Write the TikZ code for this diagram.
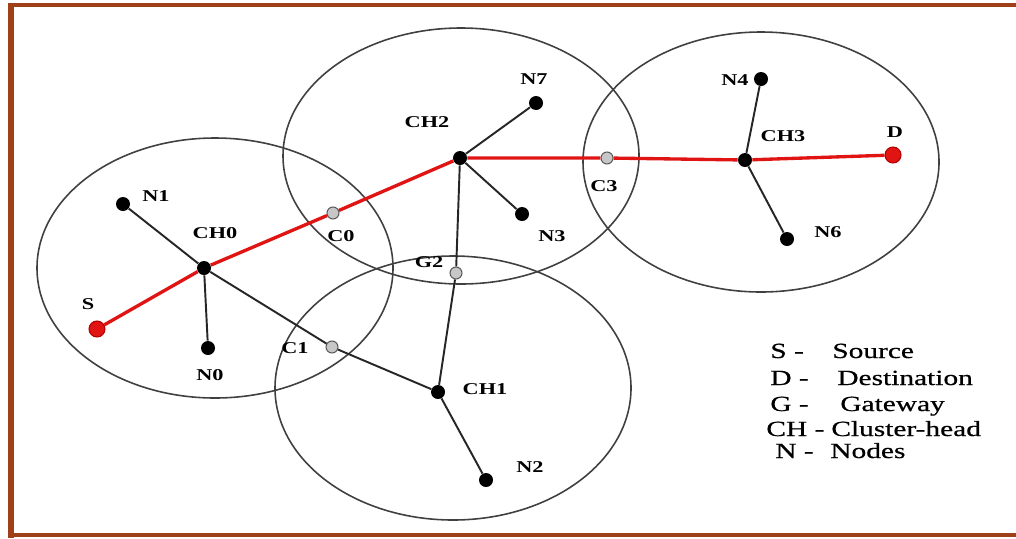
\documentclass[tikz,border=0pt]{standalone}
\usepackage{fontspec}
\setmainfont{Liberation Serif}
\newfontfamily\tagfont[FakeStretch=1.35]{Liberation Serif}
\newfontfamily\keyfont[FakeStretch=1.36,FakeBold=0.6]{Liberation Serif}
\definecolor{framebrown}{RGB}{160,64,24}
\definecolor{routered}{RGB}{225,20,20}

\begin{document}
\begin{tikzpicture}[x=0.02cm,y=-0.02cm,
  sensor/.style={circle,fill=black,inner sep=0pt,minimum size=0.28cm},
  gateway/.style={circle,draw=black!65,fill=black!22,line width=0.6pt,inner sep=0pt,minimum size=0.24cm},
  terminal/.style={circle,draw=red!70!black,fill=routered,line width=0.6pt,inner sep=0pt,minimum size=0.32cm},
  tag/.style={font=\tagfont\bfseries\fontsize{9.4}{11}\selectfont,inner sep=0pt},
  key/.style={font=\keyfont\fontsize{12.3}{14}\selectfont,anchor=base west,inner sep=0pt},
  zone/.style={draw=black!75,line width=0.9pt},
  link/.style={draw=black!85,line width=1.1pt},
  hop/.style={draw=routered,line width=1.9pt}]

  \useasboundingbox (0,0) rectangle (1016,538);
  \fill[white] (0,0) rectangle (1016,538);

  % frame
  \draw[framebrown,line width=3.4pt] (11,3) -- (11,538);
  \draw[framebrown,line width=2.3pt] (8,5) -- (1016,5);
  \draw[framebrown,line width=2.3pt] (8,535) -- (1016,535);

  % cluster ranges
  \draw[zone] (215,268) ellipse [x radius=178, y radius=130];
  \draw[zone] (461,156) ellipse [x radius=178, y radius=128];
  \draw[zone] (761,162) ellipse [x radius=178, y radius=130];
  \draw[zone] (453,388) ellipse [x radius=178, y radius=132];

  % nodes
  \node[terminal] (S) at (97,329) {};
  \node[terminal] (D) at (893,155) {};
  \node[sensor] (CH0) at (204,268) {};
  \node[sensor] (CH1) at (438,392) {};
  \node[sensor] (CH2) at (460,158) {};
  \node[sensor] (CH3) at (745,160) {};
  \node[sensor] (N0) at (208,348) {};
  \node[sensor] (N1) at (123,204) {};
  \node[sensor] (N2) at (486,480) {};
  \node[sensor] (N3) at (522,214) {};
  \node[sensor] (N4) at (761,79) {};
  \node[sensor] (N6) at (787,239) {};
  \node[sensor] (N7) at (536,103) {};
  \node[gateway] (C0) at (333,213) {};
  \node[gateway] (C1) at (332,347) {};
  \node[gateway] (C3) at (607,158) {};
  \node[gateway] (G2) at (456,273) {};

  % labels
  \node[tag] (lS) at (88,304) {S};
  \node[tag] (lD) at (895,132) {D};
  \node[tag] (lCH0) at (215,233) {CH0};
  \node[tag] (lCH1) at (485,389) {CH1};
  \node[tag] (lCH2) at (427,122) {CH2};
  \node[tag] (lCH3) at (783,136) {CH3};
  \node[tag] (lN0) at (210,375) {N0};
  \node[tag] (lN1) at (156,196) {N1};
  \node[tag] (lN2) at (530,467) {N2};
  \node[tag] (lN3) at (552,236) {N3};
  \node[tag] (lN4) at (735,80) {N4};
  \node[tag] (lN6) at (828,232) {N6};
  \node[tag] (lN7) at (534,79) {N7};
  \node[tag] (lC0) at (341,236) {C0};
  \node[tag] (lC1) at (295,348) {C1};
  \node[tag] (lC3) at (604,186) {C3};
  \node[tag] (lG2) at (429,262) {G2};

  % cluster links
  \path[link] (CH0) -- (N1)
              (CH0) -- (N0)
              (CH0) -- (C1)
              (C1) -- (CH1)
              (CH1) -- (N2)
              (CH1) -- (G2)
              (G2) -- (CH2)
              (CH2) -- (N7)
              (CH2) -- (N3)
              (CH3) -- (N4)
              (CH3) -- (N6);

  % route from source to destination
  \path[hop] (S) -- (CH0) -- (C0) -- (CH2) -- (C3) -- (CH3) -- (D);

  % legend
  \node[key] (kS) at (770,358) {S -};
  \node[key] (kSource) at (832,358) {Source};
  \node[key] (kD) at (770,385) {D -};
  \node[key] (kDest) at (837,385) {Destination};
  \node[key] (kG) at (770,411) {G -};
  \node[key] (kGate) at (840,411) {Gateway};
  \node[key] (kCH) at (766,436) {CH -};
  \node[key] (kClus) at (831,436) {Cluster-head};
  \node[key] (kN) at (775,458) {N -};
  \node[key] (kNodes) at (830,458) {Nodes};

\end{tikzpicture}
\end{document}
